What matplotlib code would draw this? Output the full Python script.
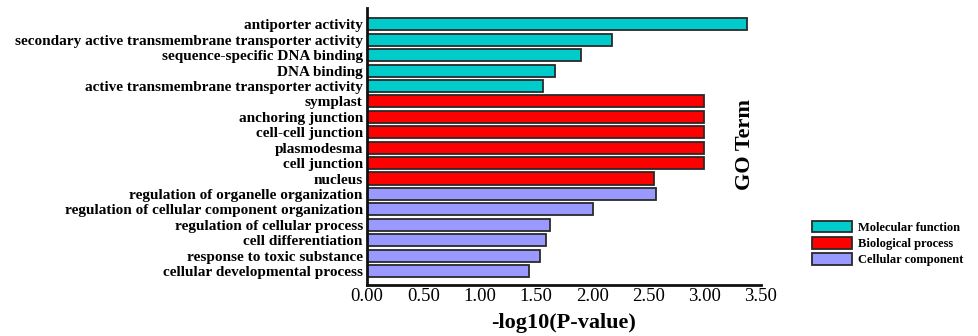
import matplotlib
matplotlib.use('Agg')
import matplotlib.pyplot as plt
from matplotlib.patches import Patch

terms = ['antiporter activity',
         'secondary active transmembrane transporter activity',
         'sequence-specific DNA binding',
         'DNA binding',
         'active transmembrane transporter activity',
         'symplast',
         'anchoring junction',
         'cell-cell junction',
         'plasmodesma',
         'cell junction',
         'nucleus',
         'regulation of organelle organization',
         'regulation of cellular component organization',
         'regulation of cellular process',
         'cell differentiation',
         'response to toxic substance',
         'cellular developmental process']
values = [3.38, 2.18, 1.90, 1.67, 1.56,
          2.99, 2.99, 2.99, 2.99, 2.99, 2.55,
          2.57, 2.01, 1.63, 1.59, 1.54, 1.44]
groups = ['Molecular function'] * 5 + ['Biological process'] * 6 + ['Cellular component'] * 6
group_names = ['Molecular function', 'Biological process', 'Cellular component']
group_colors = {'Molecular function': '#00CCCC',
                'Biological process': '#FF0000',
                'Cellular component': '#9999FF'}
xticks = [0.0, 0.5, 1.0, 1.5, 2.0, 2.5, 3.0, 3.5]

plt.rcParams['font.family'] = ['Liberation Serif', 'DejaVu Serif']

fig = plt.figure(figsize=(9.79, 3.36), dpi=100)
ax = fig.add_axes([0.3749, 0.152, 0.4024, 0.824])

ypos = list(range(len(terms)))
colors = [group_colors[g] for g in groups]
ax.barh(ypos, values, height=0.78, color=colors, edgecolor='#2a2a2a', linewidth=1.3)

ax.set_ylim(len(terms) - 0.1, -1.05)
ax.set_xlim(0, 3.5)
ax.set_yticks(ypos)
ax.set_yticklabels(terms, fontsize=11, fontweight='bold')
ax.set_xticks(xticks)
ax.set_xticklabels(['%.2f' % t for t in xticks], fontsize=13.5)
ax.tick_params(axis='y', length=0, pad=3)
ax.tick_params(axis='x', length=0, pad=2)
ax.set_xlabel('-log10(P-value)', fontsize=16, fontweight='bold', labelpad=6)

for s in ['top', 'right']:
    ax.spines[s].set_visible(False)
for s in ['left', 'bottom']:
    ax.spines[s].set_linewidth(2)
    ax.spines[s].set_color('#111111')

fig.text(0.761, 0.57, 'GO Term', rotation=90, fontsize=16, fontweight='bold',
         ha='center', va='center')

handles = [Patch(facecolor=group_colors[g], edgecolor='#2a2a2a', linewidth=1.3, label=g)
           for g in group_names]
fig.legend(handles=handles, loc='center left', bbox_to_anchor=(0.818, 0.275),
           frameon=False, prop={'size': 9, 'weight': 'bold'},
           handlelength=3.2, handleheight=1.05, labelspacing=0.25, handletextpad=0.5)

fig.savefig('out.png', dpi=100)
